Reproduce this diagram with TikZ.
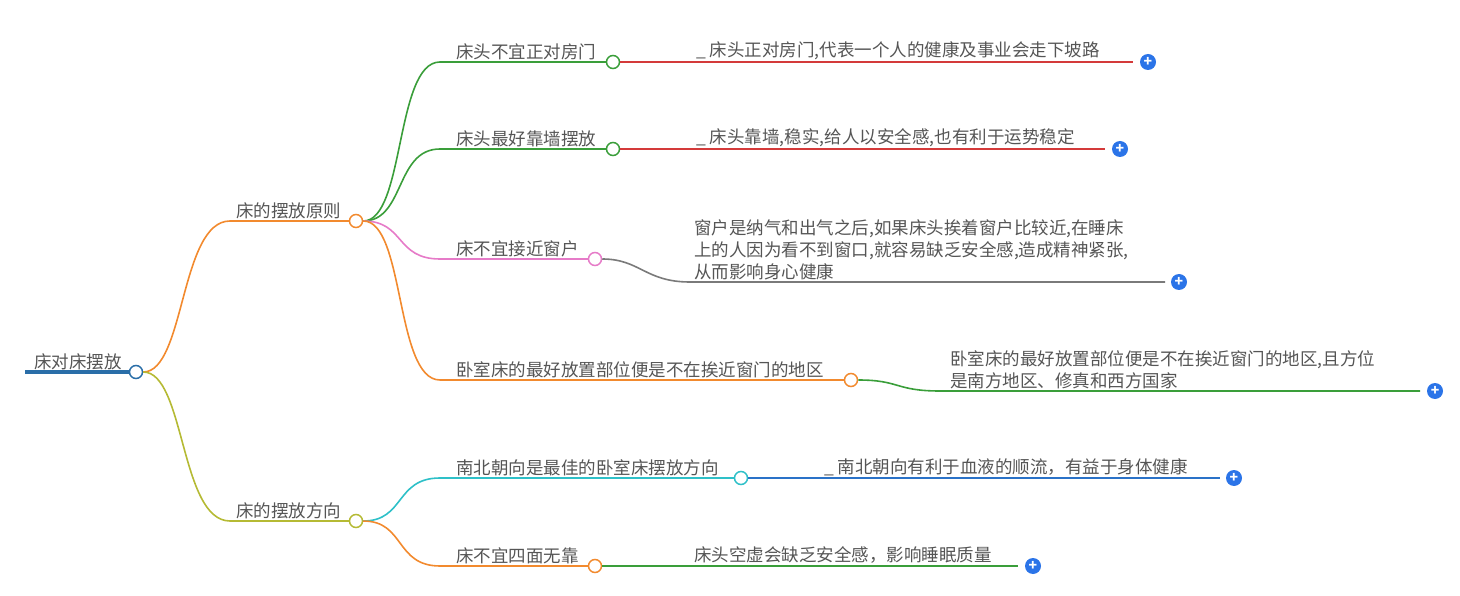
\documentclass[tikz,border=0pt]{standalone}
\usepackage{fontspec}
\setmainfont{Noto Sans CJK SC}
\usetikzlibrary{positioning}
\definecolor{cRoot}{HTML}{2A6EA8}
\definecolor{cOrange}{HTML}{F28A2E}
\definecolor{cOlive}{HTML}{B5BA34}
\definecolor{cGreen}{HTML}{3A9E3A}
\definecolor{cPink}{HTML}{E67BC8}
\definecolor{cCyan}{HTML}{2EC0C8}
\definecolor{cRed}{HTML}{D43A3A}
\definecolor{cGray}{HTML}{7A7A7A}
\definecolor{cBlue}{HTML}{2A72C8}
\definecolor{cPlus}{HTML}{2B74E8}
\definecolor{cText}{HTML}{555555}
\begin{document}
\begin{tikzpicture}[x=1pt,y=-1pt]
		\tikzstyle {label} = [anchor=south west, inner sep=1pt, text=cText, font=\fontsize{17.5}{22}\selectfont]
		\tikzstyle {knob} = [circle, draw, fill=white, line width=1.5pt, minimum size=13pt, inner sep=0pt]
		\tikzstyle {plus} = [circle, fill=cPlus, minimum size=16pt, inner sep=0pt, text=white, font=\bfseries\fontsize{14}{14}\selectfont]
		\tikzstyle {edge} = [line width=1.6pt]

		\useasboundingbox (0,0) rectangle (1460,596);

		% root
		\coordinate (rootL) at (25,372);
		\node[knob, draw=cRoot] (root) at (136,372) {};
		\node[label] at (33,371) {床对床摆放};
		\draw[cRoot, line width=3.5pt] (rootL) -- (root);

		% first level
		\coordinate (pA) at (230,221);
		\node[knob, draw=cOrange] (A) at (356,221) {};
		\node[label] at (235,220) {床的摆放原则};
		\coordinate (pB) at (230,521);
		\node[knob, draw=cOlive] (B) at (356,521) {};
		\node[label] at (235,520) {床的摆放方向};

		\draw[edge, cOrange] (root.east) .. controls (185,372) and (180,221) .. (pA) -- (A);
		\draw[edge, cOlive] (root.east) .. controls (185,372) and (180,521) .. (pB) -- (B);

		% second level
		\node[knob, draw=cGreen] (A1) at (613,62) {};
		\node[label] at (455,61) {床头不宜正对房门};
		\node[knob, draw=cGreen] (A2) at (613,149) {};
		\node[label] at (455,148) {床头最好靠墙摆放};
		\node[knob, draw=cPink] (A3) at (595,259) {};
		\node[label] at (455,258) {床不宜接近窗户};
		\node[knob, draw=cOrange] (A4) at (851,380) {};
		\node[label] at (455,379) {卧室床的最好放置部位便是不在挨近窗门的地区};
		\node[knob, draw=cCyan] (B1) at (741,478) {};
		\node[label] at (455,477) {南北朝向是最佳的卧室床摆放方向};
		\node[knob, draw=cOrange] (B2) at (595,566) {};
		\node[label] at (455,565) {床不宜四面无靠};

		\draw[edge, cGreen] (A.east) .. controls (405,221) and (395,62) .. (440,62) -- (A1);
		\draw[edge, cGreen] (A.east) .. controls (405,221) and (395,149) .. (440,149) -- (A2);
		\draw[edge, cPink] (A.east) .. controls (405,221) and (395,259) .. (440,259) -- (A3);
		\draw[edge, cOrange] (A.east) .. controls (405,221) and (395,380) .. (440,380) -- (A4);
		\draw[edge, cCyan] (B.east) .. controls (405,521) and (395,478) .. (440,478) -- (B1);
		\draw[edge, cOrange] (B.east) .. controls (405,521) and (395,566) .. (440,566) -- (B2);

		% leaves
		\node[plus] (P1) at (1148,62) {+};
		\node[label] at (695,61) {\_ 床头正对房门,代表一个人的健康及事业会走下坡路};
		\draw[edge, cRed] (A1.east) -- (1133,62);

		\node[plus] (P2) at (1120,149) {+};
		\node[label] at (695,148) {\_ 床头靠墙,稳实,给人以安全感,也有利于运势稳定};
		\draw[edge, cRed] (A2.east) -- (1105,149);

		\node[plus] (P3) at (1179,282) {+};
		\node[label, align=left] at (693,281) {窗户是纳气和出气之后,如果床头挨着窗户比较近,在睡床\\上的人因为看不到窗口,就容易缺乏安全感,造成精神紧张,\\从而影响身心健康};
		\draw[edge, cGray] (A3.east) .. controls (640,259) and (645,282) .. (690,282) -- (1165,282);

		\node[plus] (P4) at (1435,391) {+};
		\node[label, align=left] at (949,390) {卧室床的最好放置部位便是不在挨近窗门的地区,且方位\\是南方地区、修真和西方国家};
		\draw[edge, cGreen] (A4.east) .. controls (900,380) and (895,391) .. (940,391) -- (1420,391);

		\node[plus] (P5) at (1234,478) {+};
		\node[label] at (823,477) {\_ 南北朝向有利于血液的顺流，有益于身体健康};
		\draw[edge, cBlue] (B1.east) -- (1220,478);

		\node[plus] (P6) at (1033,566) {+};
		\node[label] at (693,565) {床头空虚会缺乏安全感，影响睡眠质量};
		\draw[edge, cGreen] (B2.east) -- (1018,566);
\end{tikzpicture}
\end{document}
